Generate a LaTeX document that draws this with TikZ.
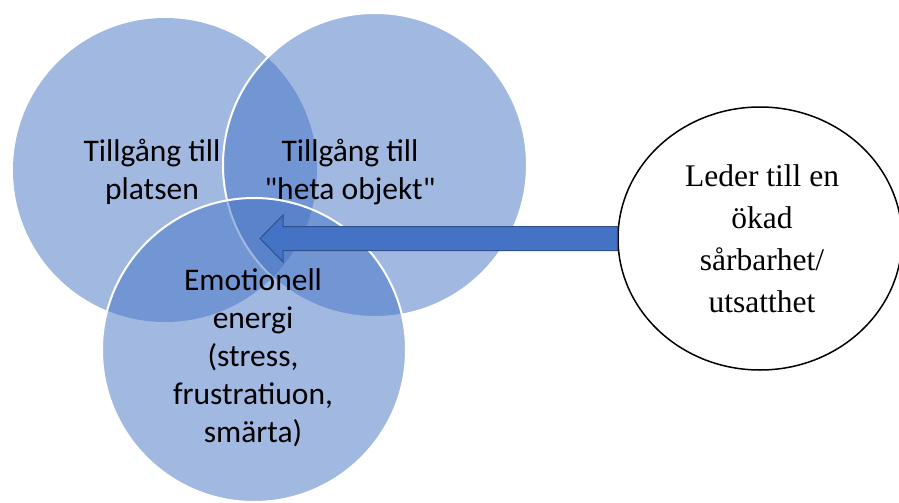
\documentclass[tikz,border=0pt]{standalone}
\usepackage{fontspec}
\setmainfont{Liberation Serif}
\newfontfamily\calfont{Carlito}
\usetikzlibrary{shapes.geometric,calc}
\definecolor{venn}{HTML}{4472C4}
\definecolor{arrowedge}{HTML}{2F528F}
\begin{document}
\begin{tikzpicture}[x=1pt,y=-1pt,
  venncircle/.style={circle, minimum size=304pt, inner sep=0pt, fill=venn, fill opacity=0.5},
  vennline/.style={draw=white, line width=2pt},
  venntext/.style={font=\calfont\fontsize{31.5}{38}\selectfont, align=center, anchor=base, inner sep=0pt, text=black},
  bigarrow/.style={fill=venn, draw=arrowedge, line width=1pt, line join=miter},
  resultbox/.style={ellipse, draw=black, line width=1.5pt, fill=white, minimum width=284pt, minimum height=263pt, inner sep=0pt},
  resulttext/.style={font=\fontsize{31.5}{41.7}\selectfont, align=center, anchor=base, inner sep=0pt}]
\useasboundingbox (0,0) rectangle (899,503);
\node[venncircle] (c1) at (165,170) {};
\node[venncircle, vennline] (c2) at (375,165) {};
\node[venncircle, vennline] (c3) at (254,350) {};
\node[resultbox] (e) at (760,238.5) {};
\coordinate (tip) at (260,238.5);
\draw[bigarrow] ($(e.west)+(0,-12)$) -- ($(tip)+(23,-12)$) -- ($(tip)+(23,-23.5)$) -- (tip)
  -- ($(tip)+(23,23.5)$) -- ($(tip)+(23,12)$) -- ($(e.west)+(0,12)$) -- cycle;
\node[venntext] (t1) at (152,199) {Tillgång till\\platsen};
\node[venntext] (t2) at (350,199) {Tillgång till\\"heta objekt"};
\node[venntext] (t3) at (253,442) {Emotionell\\energi\\(stress,\\frustratiuon,\\smärta)};
\node[resulttext] (et) at (762,312) {Leder till en\\ökad\\sårbarhet/\\utsatthet};
\end{tikzpicture}
\end{document}
